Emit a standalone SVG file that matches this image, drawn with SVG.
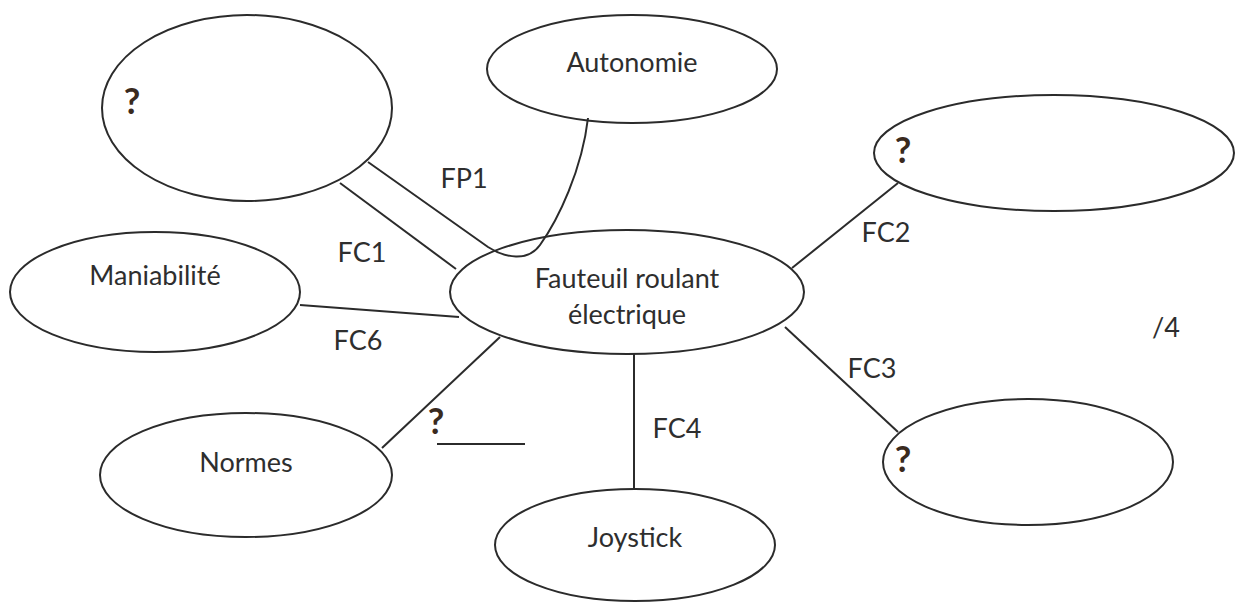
<svg xmlns="http://www.w3.org/2000/svg" width="1237" height="608" viewBox="0 0 1237 608">
<style>
.n{fill:#fff;stroke:#2b2b2b;stroke-width:2}
.c{fill:none;stroke:#2b2b2b;stroke-width:2}
text{font-family:Lato,"Open Sans","Liberation Sans",sans-serif;font-size:27px;fill:#2e2e2e;text-anchor:middle}
.q{font-weight:bold;font-size:36px;fill:#3a2a1e}
</style>
<rect width="1237" height="608" fill="#fff"/>
<g id="n-q1"><ellipse class="n" cx="247" cy="108" rx="145" ry="93"/><text class="q" x="132" y="114">?</text></g>
<g id="n-autonomie"><ellipse class="n" cx="632" cy="69" rx="145" ry="54"/><text x="632" y="72">Autonomie</text></g>
<g id="n-center"><ellipse class="n" cx="627" cy="292" rx="177" ry="62"/><text x="627" y="288">Fauteuil roulant</text><text x="627" y="324">électrique</text></g>
<g id="n-q2"><ellipse class="n" cx="1054" cy="153" rx="180" ry="58"/><text class="q" x="903" y="163">?</text></g>
<g id="n-q3"><ellipse class="n" cx="1028" cy="462" rx="145" ry="63"/><text class="q" x="903" y="472">?</text></g>
<g id="n-maniabilite"><ellipse class="n" cx="155" cy="292" rx="145" ry="60"/><text x="155" y="285">Maniabilité</text></g>
<g id="n-normes"><ellipse class="n" cx="246" cy="475" rx="146" ry="62"/><text x="246" y="472">Normes</text></g>
<g id="n-joystick"><ellipse class="n" cx="635" cy="545" rx="140" ry="56"/><text x="635" y="547">Joystick</text></g>
<g id="connectors">
<line class="c" x1="340" y1="183" x2="456" y2="269"/>
<path class="c" d="M368,162 L488,247 C505,258 528,262 540,245 C558,220 582,170 588,118"/>
<line class="c" x1="300" y1="305" x2="459" y2="317"/>
<line class="c" x1="382" y1="448" x2="500" y2="337"/>
<line class="c" x1="634" y1="354" x2="634" y2="489"/>
<line class="c" x1="792" y1="268" x2="898" y2="183"/>
<line class="c" x1="785" y1="327" x2="898" y2="432"/>
<line class="c" x1="437" y1="444" x2="525" y2="444"/>
</g>
<g id="labels">
<text x="464" y="188">FP1</text>
<text x="362" y="262">FC1</text>
<text x="358" y="350">FC6</text>
<text x="886" y="242">FC2</text>
<text x="872" y="378">FC3</text>
<text x="677" y="438">FC4</text>
<text x="1166" y="337">/4</text>
<text class="q" x="436" y="434">?</text>
</g>
</svg>
